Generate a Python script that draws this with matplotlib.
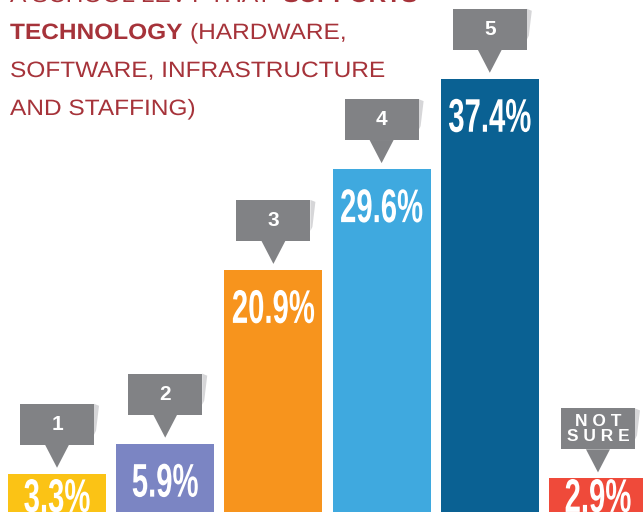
import matplotlib.pyplot as plt
from matplotlib import patheffects
from matplotlib.patches import Polygon, Rectangle
from matplotlib.transforms import Affine2D

# survey answers (rating 1-5 plus not sure) and share of respondents
ratings = ['1', '2', '3', '4', '5', 'N O T\nS U R E']
shares = [3.3, 5.9, 20.9, 29.6, 37.4, 2.9]
value_labels = ['3.3%', '5.9%', '20.9%', '29.6%', '37.4%', '2.9%']
bar_colors = ['#FBC315', '#7B85C3', '#F7941D', '#3FA9DF', '#0A6193', '#EF4A3A']

title_color = '#A6333A'
box_color = '#818285'


class Stretch(patheffects.AbstractPathEffect):
    """Scale the glyphs horizontally around a fixed pixel x (fake condensed / tracked font)."""

    def __init__(self, sx, cx):
        super().__init__()
        self.sx = sx
        self.cx = cx

    def draw_path(self, renderer, gc, tpath, affine, rgbFace=None):
        t = affine + Affine2D().translate(-self.cx, 0).scale(self.sx, 1).translate(self.cx, 0)
        renderer.draw_path(gc, tpath, t, rgbFace)


W, H = 643, 512
fig = plt.figure(figsize=(W / 100, H / 100), dpi=100)
ax = fig.add_axes([0, 0, 1, 1])
x_min, x_max = -0.527, 5.416
y_max = 44.2
ax.set_xlim(x_min, x_max)
ax.set_ylim(0, y_max)
ax.axis('off')

# size of one pixel in data units
px = (x_max - x_min) / W
py = y_max / H

xs = list(range(len(shares)))
ax.bar(xs, shares, width=0.905, color=bar_colors, zorder=1)

sans = ['Liberation Sans', 'DejaVu Sans']
for xi, v, lab, r in zip(xs, shares, value_labels, ratings):
    # big percentage inside the bar, squeezed to look like a condensed face
    top = max(v - 19 * py, 2.94)
    cx = ax.transData.transform((xi, 0))[0]
    ax.text(xi, top, lab, ha='center', va='top', color='white',
            fontsize=34, fontweight='bold', family=sans, zorder=3,
            path_effects=[Stretch(0.62, cx)])

    # grey callout with pointer
    tip = v + 6 * py
    bottom = tip + 23 * py
    bw, bh = 74 * px, 41 * py
    left = xi - bw / 2
    shadow = Polygon([(left + bw, bottom + bh), (left + bw + 5 * px, bottom + bh - 2 * py),
                      (left + bw + 2 * px, bottom + 14 * py), (left + bw, bottom + 10 * py)],
                     closed=True, color='#D6D6D8', lw=0, zorder=2)
    ax.add_patch(shadow)
    ax.add_patch(Rectangle((left, bottom), bw, bh, color=box_color, lw=0, zorder=3))
    ax.add_patch(Polygon([(xi - 12 * px, bottom + 0.1 * py), (xi + 12 * px, bottom + 0.1 * py), (xi, tip)],
                         closed=True, color=box_color, lw=0, zorder=3))
    fs = 15 if len(r) == 1 else 12.5
    ax.text(xi, bottom + bh / 2, r, ha='center', va='center', color='white',
            fontsize=fs, fontweight='bold', family=sans, linespacing=0.95, zorder=4)

# title block, partly cut off at the top
title_lines = [
    [(10, 'A SCHOOL LEVY THAT ', 'normal'), (283, 'SUPPORTS', 'bold')],
    [(10, 'TECHNOLOGY', 'bold'), (190, '(HARDWARE,', 'normal')],
    [(10, 'SOFTWARE, INFRASTRUCTURE', 'normal')],
    [(10, 'AND STAFFING)', 'normal')],
]
baselines = [2, 39, 77, 115]
for line, base in zip(title_lines, baselines):
    for xpix, txt, wt in line:
        fig.text(xpix / W, 1 - base / H, txt, ha='left', va='baseline',
                 color=title_color, fontsize=16, fontweight=wt, family=sans,
                 path_effects=[Stretch(1.1, xpix)])

fig.savefig('out.png', dpi=100)
